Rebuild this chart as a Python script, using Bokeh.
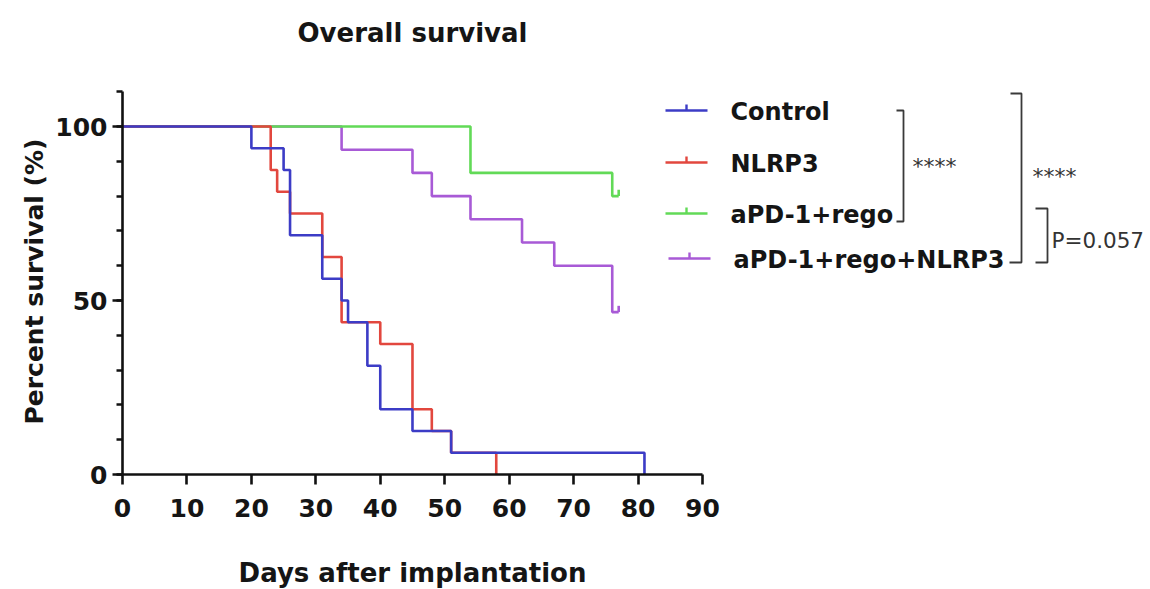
from bokeh.plotting import figure
from bokeh.models import Range1d, FixedTicker
from bokeh.core.properties import value
from bokeh.embed import file_html
from bokeh.resources import INLINE

# ---------------- data ----------------
groups = ["Control", "NLRP3", "aPD-1+rego", "aPD-1+rego+NLRP3"]
colors = ["#3c3cc6", "#e2473e", "#62da57", "#a85ad6"]

control_days = [0, 20, 25, 26, 31, 34, 35, 38, 40, 45, 51, 81]
control_surv = [100, 93.75, 87.5, 68.75, 56.25, 50, 43.75, 31.25, 18.75, 12.5, 6.25, 0]

nlrp3_days = [0, 23, 24, 26, 31, 34, 40, 45, 48, 51, 58]
nlrp3_surv = [100, 87.5, 81.25, 75, 62.5, 43.75, 37.5, 18.75, 12.5, 6.25, 0]

combo_days = [0, 54, 76, 77]
combo_surv = [100, 86.67, 80, 80]

combo_nlrp3_days = [0, 34, 45, 48, 54, 62, 67, 76, 77]
combo_nlrp3_surv = [100, 93.33, 86.67, 80, 73.33, 66.67, 60, 46.67, 46.67]

censor_days = [77, 77]
censor_surv = [80, 46.67]
censor_colors = [colors[2], colors[3]]

x_ticks = [0, 10, 20, 30, 40, 50, 60, 70, 80, 90]
y_ticks = [0, 50, 100]
y_minor_ticks = [0, 10, 20, 30, 40, 50, 60, 70, 80, 90, 100, 110]

title_text = "Overall survival"
x_title = "Days after implantation"
y_title = "Percent survival (%)"
comparison_labels = ["****", "****", "P=0.057"]

# ---------------- geometry (screen px -> data) ----------------
W, H = 1150, 589
X0_PX, Y0_PX = 122, 474     # screen position of (0 days, 0 %)
PX_DAY = 6.444
PX_PCT = 3.48


def sx(px):
    return (px - X0_PX) / PX_DAY


def sy(py):
    return (Y0_PX - py) / PX_PCT


p = figure(width=W, height=H,
           x_range=Range1d(sx(0), sx(W)),
           y_range=Range1d(sy(H), sy(0)),
           output_backend="svg", toolbar_location=None,
           min_border_left=0, min_border_right=0,
           min_border_top=0, min_border_bottom=0,
           outline_line_color=None, background_fill_color="white",
           border_fill_color="white")

p.xgrid.visible = False
p.ygrid.visible = False

p.xaxis.ticker = FixedTicker(ticks=x_ticks, minor_ticks=[])
p.yaxis.ticker = FixedTicker(ticks=y_ticks, minor_ticks=y_minor_ticks)
p.xaxis.bounds = (0, 90)
p.yaxis.bounds = (0, 110)
p.xaxis.fixed_location = 0
p.yaxis.fixed_location = 0

for ax in (p.xaxis[0], p.yaxis[0]):
    ax.axis_line_width = 2.6
    ax.axis_line_color = "#111111"
    ax.major_tick_line_width = 2.6
    ax.major_tick_line_color = "#111111"
    ax.minor_tick_line_width = 2.4
    ax.minor_tick_line_color = "#111111"
    ax.major_tick_in = 0
    ax.major_tick_out = 10
    ax.minor_tick_in = 0
    ax.minor_tick_out = 6
    ax.major_label_text_font = "DejaVu Sans"
    ax.major_label_text_font_style = "bold"
    ax.major_label_text_font_size = "25px"
    ax.major_label_text_color = "#151515"
p.xaxis.major_label_standoff = 14
p.yaxis.major_label_standoff = 5

# ---------------- survival curves ----------------
series = [
    (combo_nlrp3_days, combo_nlrp3_surv, colors[3]),
    (combo_days, combo_surv, colors[2]),
    (nlrp3_days, nlrp3_surv, colors[1]),
    (control_days, control_surv, colors[0]),
]
for d, s, c in series:
    p.step(x=d, y=s, mode="after", line_width=2.6, line_color=c)

# censor ticks
p.segment(x0=censor_days, y0=censor_surv, x1=censor_days,
          y1=[v + 1.8 for v in censor_surv], line_color=censor_colors,
          line_width=2.6)


def txt(px, py, t, size, bold=True, align="left", angle=0.0, color="#151515"):
    p.text(x=[sx(px)], y=[sy(py)], text=[t], text_align=align,
           text_baseline="middle", angle=angle,
           text_font=value("DejaVu Sans"),
           text_font_style="bold" if bold else "normal",
           text_font_size=size, text_color=color)


# ---------------- titles ----------------
txt(412, 32, title_text, "26px", align="center")
txt(412, 572, x_title, "26px", align="center")
txt(34, 281, y_title, "25px", align="center", angle=1.5707963)

# ---------------- legend ----------------
row_y = [110, 162, 213, 258]
lx0 = [665, 665, 665, 668]
for i, g in enumerate(groups):
    y = sy(row_y[i])
    p.segment(x0=[sx(lx0[i])], y0=[y], x1=[sx(lx0[i] + 42)], y1=[y],
              line_color=colors[i], line_width=2.6)
    p.segment(x0=[sx(lx0[i] + 21)], y0=[y], x1=[sx(lx0[i] + 21)], y1=[sy(row_y[i] - 6)],
              line_color=colors[i], line_width=2.4)
    txt(730 if i < 3 else 733, row_y[i] + 1.5, g, "24px")

# ---------------- comparison brackets ----------------
brackets = [
    [(896, 110), (903, 110), (903, 221), (896, 221)],
    [(1010, 93), (1021, 93), (1021, 262), (1009, 262)],
    [(1035, 208), (1047, 208), (1047, 262), (1035, 262)],
]
p.multi_line(xs=[[sx(a) for a, b in br] for br in brackets],
             ys=[[sy(b) for a, b in br] for br in brackets],
             line_color="#3a3a3a", line_width=1.8)

lab_pos = [(912, 166, "22px"), (1032, 176, "22px"), (1051, 240, "21.5px")]
for (px, py, fs), t in zip(lab_pos, comparison_labels):
    txt(px, py, t, fs, bold=False, color="#333333")

open("out.html", "w").write(file_html(p, INLINE))
